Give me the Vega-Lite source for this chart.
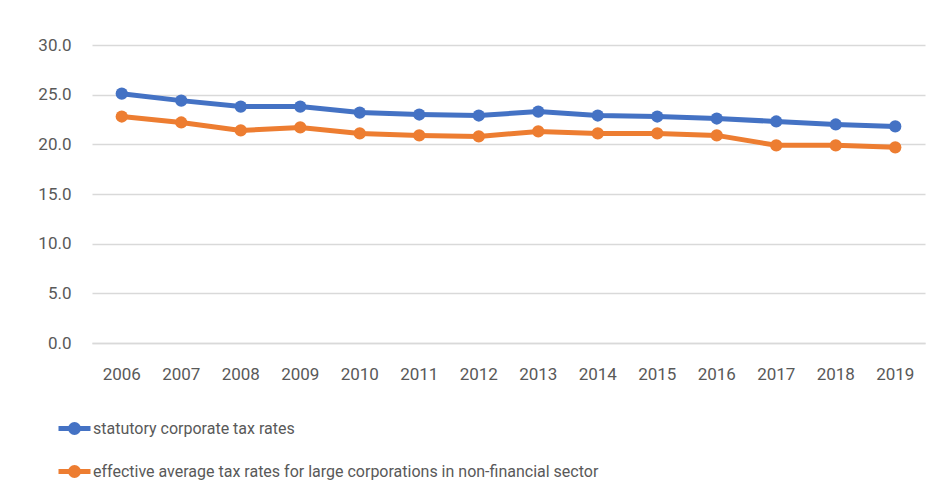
{
  "$schema": "https://vega.github.io/schema/vega-lite/v6.json",
  "width": 833,
  "height": 298,
  "autosize": {"type": "none"},
  "padding": {"left": 92, "top": 45, "right": 14, "bottom": 156},
  "background": "white",
  "config": {
    "view": {"stroke": null},
    "font": "Roboto, sans-serif"
  },
  "data": {
    "values": [
      {"year": "2006", "series": "statutory corporate tax rates", "rate": 25.1},
      {"year": "2007", "series": "statutory corporate tax rates", "rate": 24.4},
      {"year": "2008", "series": "statutory corporate tax rates", "rate": 23.8},
      {"year": "2009", "series": "statutory corporate tax rates", "rate": 23.8},
      {"year": "2010", "series": "statutory corporate tax rates", "rate": 23.2},
      {"year": "2011", "series": "statutory corporate tax rates", "rate": 23.0},
      {"year": "2012", "series": "statutory corporate tax rates", "rate": 22.9},
      {"year": "2013", "series": "statutory corporate tax rates", "rate": 23.3},
      {"year": "2014", "series": "statutory corporate tax rates", "rate": 22.9},
      {"year": "2015", "series": "statutory corporate tax rates", "rate": 22.8},
      {"year": "2016", "series": "statutory corporate tax rates", "rate": 22.6},
      {"year": "2017", "series": "statutory corporate tax rates", "rate": 22.3},
      {"year": "2018", "series": "statutory corporate tax rates", "rate": 22.0},
      {"year": "2019", "series": "statutory corporate tax rates", "rate": 21.8},
      {"year": "2006", "series": "effective average tax rates for large corporations in non-financial sector", "rate": 22.8},
      {"year": "2007", "series": "effective average tax rates for large corporations in non-financial sector", "rate": 22.2},
      {"year": "2008", "series": "effective average tax rates for large corporations in non-financial sector", "rate": 21.4},
      {"year": "2009", "series": "effective average tax rates for large corporations in non-financial sector", "rate": 21.7},
      {"year": "2010", "series": "effective average tax rates for large corporations in non-financial sector", "rate": 21.1},
      {"year": "2011", "series": "effective average tax rates for large corporations in non-financial sector", "rate": 20.9},
      {"year": "2012", "series": "effective average tax rates for large corporations in non-financial sector", "rate": 20.8},
      {"year": "2013", "series": "effective average tax rates for large corporations in non-financial sector", "rate": 21.3},
      {"year": "2014", "series": "effective average tax rates for large corporations in non-financial sector", "rate": 21.1},
      {"year": "2015", "series": "effective average tax rates for large corporations in non-financial sector", "rate": 21.1},
      {"year": "2016", "series": "effective average tax rates for large corporations in non-financial sector", "rate": 20.9},
      {"year": "2017", "series": "effective average tax rates for large corporations in non-financial sector", "rate": 19.9},
      {"year": "2018", "series": "effective average tax rates for large corporations in non-financial sector", "rate": 19.9},
      {"year": "2019", "series": "effective average tax rates for large corporations in non-financial sector", "rate": 19.7}
    ]
  },
  "encoding": {
    "x": {
      "field": "year",
      "type": "ordinal",
      "scale": {"type": "band", "paddingInner": 0, "paddingOuter": 0},
      "axis": {
        "title": null,
        "labelAngle": 0,
        "ticks": false,
        "domain": true,
        "domainColor": "#d9d9d9",
        "domainWidth": 1.5,
        "labelFontSize": 17,
        "labelColor": "#595959",
        "labelPadding": 23,
        "grid": false
      }
    },
    "y": {
      "field": "rate",
      "type": "quantitative",
      "scale": {"domain": [0, 30], "nice": false},
      "axis": {
        "title": null,
        "values": [0, 5, 10, 15, 20, 25, 30],
        "format": ".1f",
        "ticks": false,
        "domain": false,
        "grid": true,
        "gridColor": "#d9d9d9",
        "gridWidth": 1.5,
        "labelFontSize": 17,
        "labelColor": "#595959",
        "labelPadding": 21
      }
    },
    "color": {
      "field": "series",
      "type": "nominal",
      "scale": {
        "domain": ["statutory corporate tax rates", "effective average tax rates for large corporations in non-financial sector"],
        "range": ["#4472C4", "#ED7D31"]
      },
      "legend": {
        "title": null,
        "orient": "none",
        "legendX": -36,
        "legendY": 365,
        "direction": "vertical",
        "symbolType": "M-1,0H1M-0.25,0A0.25,0.25,0,1,0,0.25,0A0.25,0.25,0,1,0,-0.25,0Z",
        "symbolSize": 1024,
        "symbolStrokeWidth": 5,
        "labelFontSize": 16,
        "labelColor": "#595959",
        "labelOffset": 0,
        "labelLimit": 900,
        "rowPadding": 10,
        "encode": {
          "symbols": {
            "update": {
              "fill": {"scale": "color", "field": "value"},
              "stroke": {"scale": "color", "field": "value"},
              "fillOpacity": {"value": 1},
              "strokeOpacity": {"value": 1}
            }
          }
        }
      }
    }
  },
  "layer": [
    {"mark": {"type": "line", "strokeWidth": 5}},
    {"mark": {"type": "point", "filled": true, "size": 150, "opacity": 1, "shape": "circle"}}
  ]
}
